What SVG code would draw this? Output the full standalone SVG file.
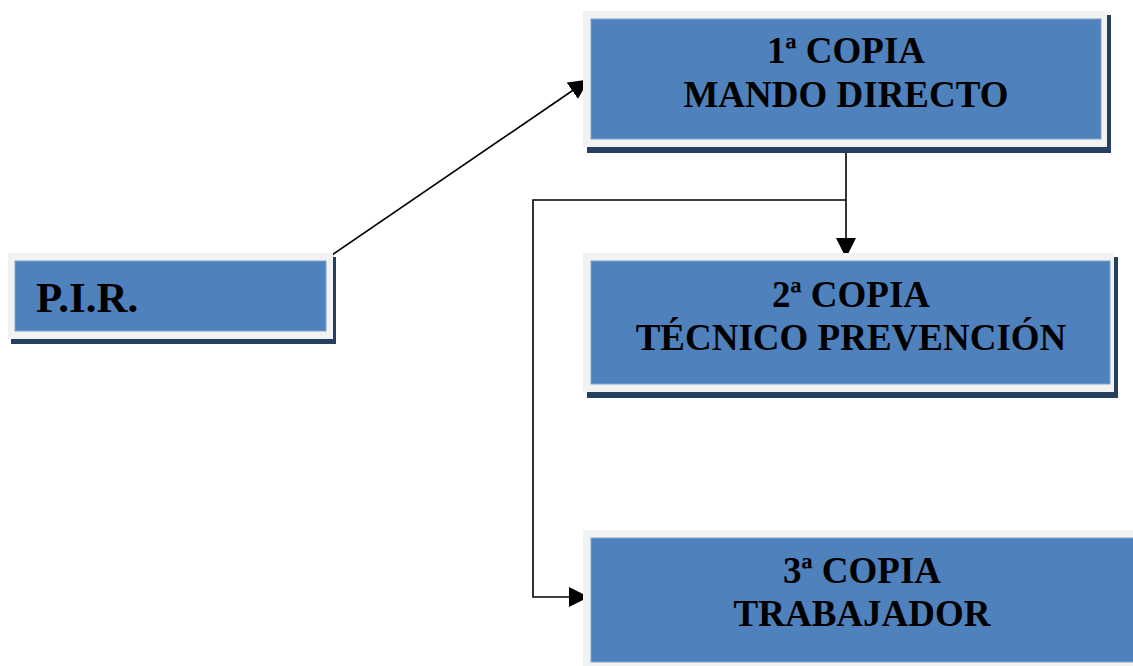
<svg xmlns="http://www.w3.org/2000/svg" width="1133" height="666" viewBox="0 0 1133 666">
<style>
.sh{fill:#243F60}
.bd{fill:#F2F2F2}
.bx{fill:#4F81BD;stroke:#7FA3D0;stroke-width:1}
.t{font-family:"Liberation Serif","Times New Roman",serif;font-weight:bold;font-size:37px;fill:#000;text-anchor:middle}
.ln{fill:none;stroke:#000;stroke-width:1.6}
</style>
<defs>
<marker id="ah" viewBox="0 0 20 20" refX="19" refY="10" markerWidth="20" markerHeight="20" markerUnits="userSpaceOnUse" orient="auto">
<path d="M0,0 L20,10 L0,20 Z" fill="#000"/>
</marker>
</defs>
<rect width="1133" height="666" fill="#fff"/>
<g id="connectors">
<line class="ln" x1="329" y1="257" x2="588" y2="80" marker-end="url(#ah)"/>
<line class="ln" x1="846" y1="143" x2="846" y2="257" marker-end="url(#ah)"/>
<polyline class="ln" points="846,200 533,200 533,597 588,597" marker-end="url(#ah)"/>
</g>
<g id="pir">
<rect class="sh" x="11" y="257" width="325" height="87"/>
<rect class="bd" x="8" y="253" width="325" height="86"/>
<rect class="bx" x="15" y="261" width="311" height="70"/>
<text class="t" x="36" y="312" style="text-anchor:start;font-size:43px">P.I.R.</text>
</g>
<g id="copia1">
<rect class="sh" x="587" y="15" width="524" height="138"/>
<rect class="bd" x="583" y="11" width="524" height="136"/>
<rect class="bx" x="591" y="19" width="510" height="120"/>
<text class="t" x="846" y="63">1ª COPIA</text>
<text class="t" x="846" y="107">MANDO DIRECTO</text>
</g>
<g id="copia2">
<rect class="sh" x="587" y="257" width="531" height="141"/>
<rect class="bd" x="583" y="253" width="531" height="139"/>
<rect class="bx" x="591" y="261" width="519" height="123"/>
<text class="t" x="851" y="307">2ª COPIA</text>
<text class="t" x="851" y="350">TÉCNICO PREVENCIÓN</text>
</g>
<g id="copia3">
<rect class="bd" x="583" y="530" width="560" height="140"/>
<rect class="bx" x="591" y="538" width="550" height="124"/>
<text class="t" x="862" y="583">3ª COPIA</text>
<text class="t" x="862" y="626">TRABAJADOR</text>
</g>
</svg>
